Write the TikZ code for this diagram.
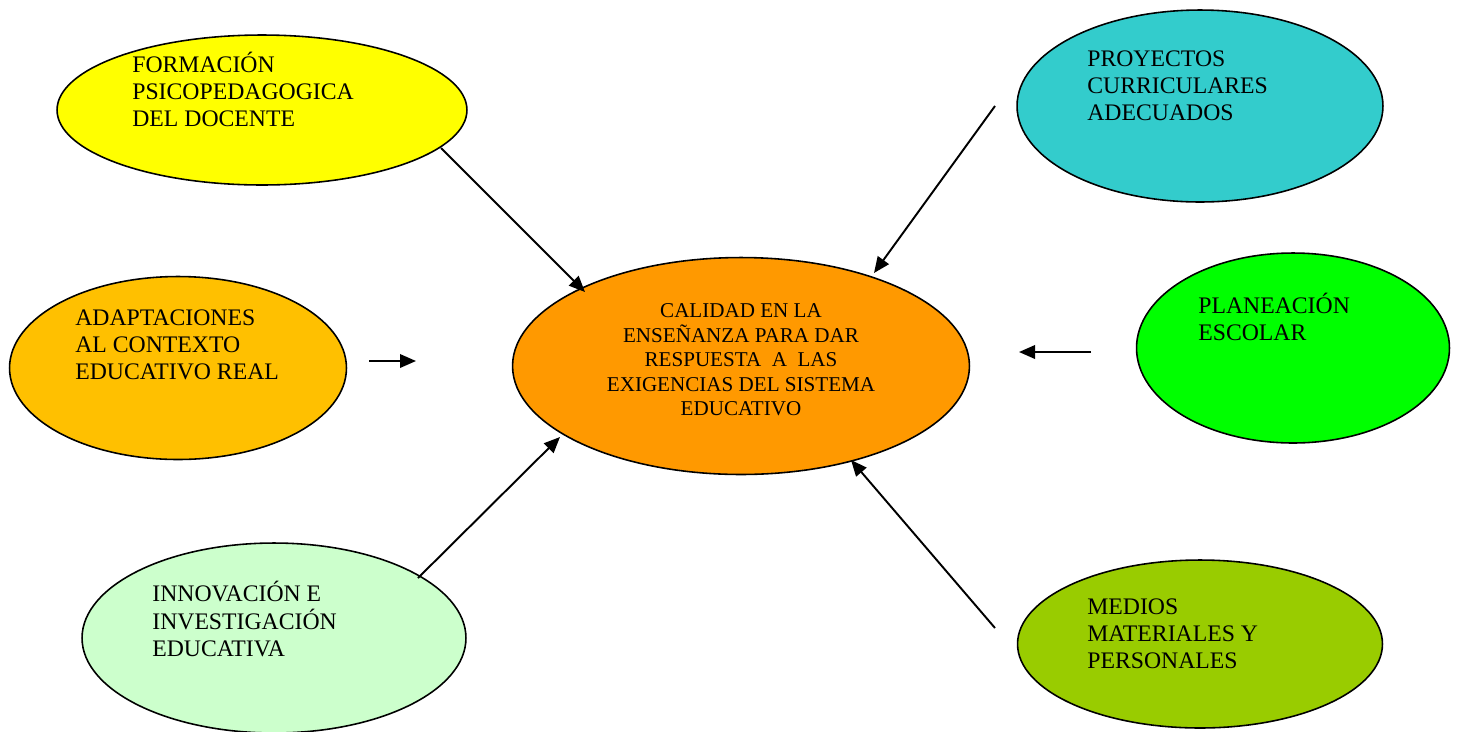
\documentclass[tikz,border=0pt]{standalone}
\usepackage{fontspec}
\setmainfont{Liberation Serif}
\usepackage{tikz}
\usetikzlibrary{shapes.geometric, arrows.meta, positioning}

\definecolor{amarillo}{HTML}{FFFF00}
\definecolor{turquesa}{HTML}{33CCCC}
\definecolor{dorado}{HTML}{FFC000}
\definecolor{naranja}{HTML}{FF9900}
\definecolor{verde}{HTML}{00FF00}
\definecolor{verdeclaro}{HTML}{CCFFCC}
\definecolor{oliva}{HTML}{99CC00}

\begin{document}
\begin{tikzpicture}[x=0.02cm,y=-0.02cm]
    \tikzstyle{bubble}=[shape=ellipse,draw=black,line width=0.9pt,inner sep=0pt]
    \tikzstyle{lbl}=[anchor=west,align=left,inner sep=0pt,font=\fontsize{13.5}{15.4}\selectfont]
    \tikzstyle{arr}=[-{Triangle[length=0.32cm,width=0.27cm]},line width=1.1pt]

    \useasboundingbox (0,0) rectangle (1457,731);

    % ellipses
    \node[bubble, fill=amarillo, minimum width=8.2cm, minimum height=3.0cm] (formacion) at (262,110) {};
    \node[bubble, fill=turquesa, minimum width=7.32cm, minimum height=3.84cm] (proyectos) at (1200,106) {};
    \node[bubble, fill=dorado, minimum width=6.74cm, minimum height=3.66cm] (adaptaciones) at (178,368) {};
    \node[bubble, fill=naranja, minimum width=9.14cm, minimum height=4.34cm] (calidad) at (741,366) {};
    \node[bubble, fill=verde, minimum width=6.26cm, minimum height=3.8cm] (planeacion) at (1293,348) {};
    \node[bubble, fill=verdeclaro, minimum width=7.68cm, minimum height=3.8cm] (innovacion) at (274,638) {};
    \node[bubble, fill=oliva, minimum width=7.3cm, minimum height=3.36cm] (medios) at (1200,644) {};

    % texts
    \node[lbl] (formaciontxt) at (132,89) {FORMACIÓN\\PSICOPEDAGOGICA\\DEL DOCENTE};
    \node[lbl] (proyectostxt) at (1087,86) {PROYECTOS\\CURRICULARES\\ADECUADOS};
    \node[lbl] (adaptacionestxt) at (75,345) {ADAPTACIONES\\AL CONTEXTO\\EDUCATIVO REAL};
    \node[lbl] (planeaciontxt) at (1198,317) {PLANEACIÓN\\ESCOLAR};
    \node[lbl] (innovaciontxt) at (152,619) {INNOVACIÓN E\\INVESTIGACIÓN\\EDUCATIVA};
    \node[lbl] (mediostxt) at (1087,634) {MEDIOS\\MATERIALES Y\\PERSONALES};
    \node[align=center, inner sep=0pt, font=\fontsize{12}{13.9}\selectfont] (calidadtxt) at (741,360)
      {CALIDAD EN LA\\ENSEÑANZA PARA DAR\\RESPUESTA~ A~ LAS\\EXIGENCIAS DEL SISTEMA\\EDUCATIVO};

    % arrow ends
    \coordinate (f0) at (441,148);  \coordinate (f1) at (585,292);
    \coordinate (p0) at (995,106);  \coordinate (p1) at (874,273);
    \coordinate (a0) at (369,361);  \coordinate (a1) at (416,361);
    \coordinate (e0) at (1091,352); \coordinate (e1) at (1019,352);
    \coordinate (i0) at (418,578);  \coordinate (i1) at (560,437);
    \coordinate (m0) at (995,628);  \coordinate (m1) at (851,460);

    \path[arr]
    (f0) edge (f1)
    (p0) edge (p1)
    (a0) edge (a1)
    (e0) edge (e1)
    (i0) edge (i1)
    (m0) edge (m1)
    ;

\end{tikzpicture}
\end{document}
